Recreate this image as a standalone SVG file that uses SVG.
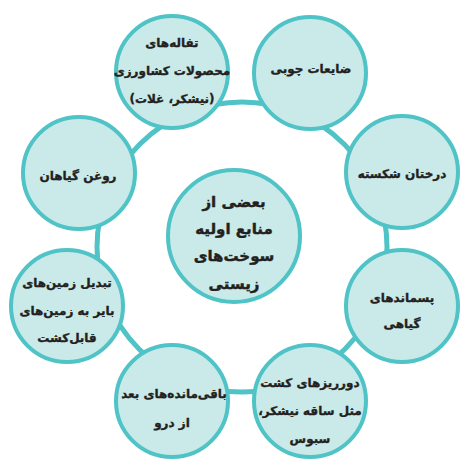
<svg xmlns="http://www.w3.org/2000/svg" width="467" height="465" viewBox="0 0 467 465">
<style>
.node{fill:#c9eae9;stroke:#4fc3c6;stroke-width:4}
.ring{fill:none;stroke:#4fc3c6;stroke-width:5}
text{font-family:"DejaVu Sans","Noto Sans",sans-serif;font-weight:bold;fill:#231f20;stroke:#231f20;stroke-width:0.35;text-anchor:middle;direction:rtl;unicode-bidi:embed}
.t{font-size:12px}
.c{font-size:15px;stroke-width:0.45}
</style>
<rect width="467" height="465" fill="#ffffff"/>
<g id="connectors">
<circle class="ring" cx="242" cy="247" r="145"/>
</g>
<g id="center">
<circle class="node" cx="234" cy="236" r="66"/>
<text class="c" x="234" y="207">بعضی از</text>
<text class="c" x="234" y="234">منابع اولیه</text>
<text class="c" x="234" y="261">سوخت‌های</text>
<text class="c" x="234" y="289">زیستی</text>
</g>
<g id="n1">
<circle class="node" cx="172" cy="72" r="56"/>
<text class="t" x="172" y="47">تفاله‌های</text>
<text class="t" x="172" y="75">محصولات کشاورزی</text>
<text class="t" x="172" y="103">(نیشکر، غلات)</text>
</g>
<g id="n2">
<circle class="node" cx="310" cy="73" r="56"/>
<text class="t" x="311" y="73">ضایعات چوبی</text>
</g>
<g id="n3">
<circle class="node" cx="402" cy="172" r="56"/>
<text class="t" x="402" y="178">درختان شکسته</text>
</g>
<g id="n4">
<circle class="node" cx="402" cy="306" r="56"/>
<text class="t" x="402" y="302">پسماندهای</text>
<text class="t" x="402" y="328">گیاهی</text>
</g>
<g id="n5">
<circle class="node" cx="310" cy="401" r="56"/>
<text class="t" x="310" y="387">دورریزهای کشت</text>
<text class="t" x="310" y="415">مثل ساقه نیشکر،</text>
<text class="t" x="310" y="443">سبوس</text>
</g>
<g id="n6">
<circle class="node" cx="172" cy="401" r="56"/>
<text class="t" x="174" y="398">باقی‌مانده‌های بعد</text>
<text class="t" x="172" y="427">از درو</text>
</g>
<g id="n7">
<circle class="node" cx="67" cy="306" r="56"/>
<text class="t" x="67" y="287">تبدیل زمین‌های</text>
<text class="t" x="67" y="315">بایر به زمین‌های</text>
<text class="t" x="67" y="342">قابل‌کشت</text>
</g>
<g id="n8">
<circle class="node" cx="79" cy="173" r="56"/>
<text class="t" x="78" y="180">روغن گیاهان</text>
</g>
</svg>
